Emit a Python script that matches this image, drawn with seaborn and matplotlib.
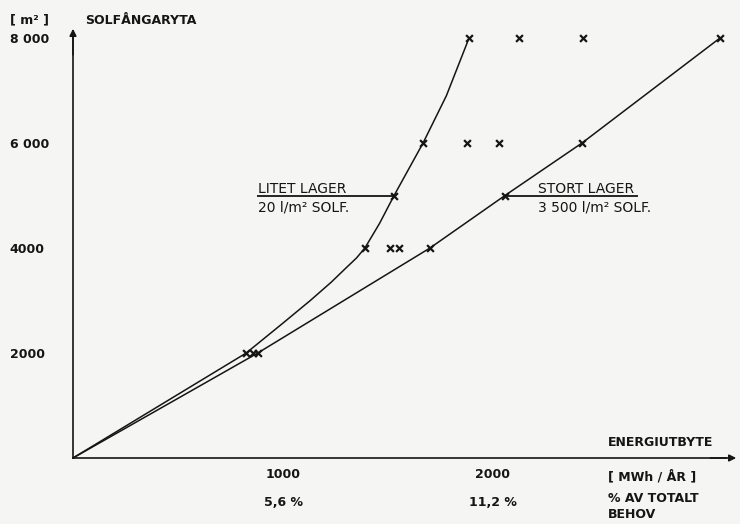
import numpy as np
import pandas as pd
import seaborn as sns
import matplotlib.pyplot as plt

# --- data -------------------------------------------------------------
# Energy yield [MWh/year] versus collector area [m2]
litet_mwh = [0, 825, 1000, 1130, 1230, 1300, 1350, 1390, 1460, 1529, 1667, 1778, 1886]
litet_m2 = [0, 2000, 2570, 3000, 3350, 3620, 3810, 4000, 4470, 5000, 6000, 6900, 8000]
litet_mark_mwh = [825, 1390, 1529, 1667, 1886]
litet_mark_m2 = [2000, 4000, 5000, 6000, 8000]

stort_mwh = [0, 880, 1700, 2057, 2424, 3081]
stort_m2 = [0, 2000, 4000, 5000, 6000, 8000]

extra_mwh = [855, 1510, 1552, 1876, 2029, 2124, 2429]
extra_m2 = [2000, 4000, 4000, 6000, 6000, 8000, 8000]

x_ticks = [500, 1000, 1500, 2000, 2500, 3000]
x_ticklabels = ["", "1000", "", "2000", "", ""]
x_pct = {1000: "5,6 %", 2000: "11,2 %"}
y_ticks = [2000, 4000, 6000, 8000]
y_ticklabels = ["2000", "4000", "6 000", "8 000"]

# --- style ------------------------------------------------------------
sns.set_theme(style="white")
plt.rcParams["font.family"] = ["DejaVu Sans"]
INK = "#151515"
PAPER = "#f5f5f3"
FS = 9

W, H = 740, 524
fig = plt.figure(figsize=(W / 100, H / 100), dpi=100, facecolor=PAPER)
ax = fig.add_axes([0, 0, 1, 1], facecolor=PAPER)

# origin sits at pixel (73, 458); 105 px per 500 MWh and per 2000 m2
X0, Y0 = 73, 458
sx, sy = 0.21, 0.0525
ax.set_xlim(-X0 / sx, (W - X0) / sx)
ax.set_ylim(-(H - Y0) / sy, Y0 / sy)

x_end = (W - 1 - X0) / sx
y_end = (Y0 - 26) / sy

for side in ("top", "right"):
    ax.spines[side].set_visible(False)
for side in ("left", "bottom"):
    ax.spines[side].set_position(("data", 0))
    ax.spines[side].set_color(INK)
    ax.spines[side].set_linewidth(1.2)
ax.spines["left"].set_bounds(0, y_end - 200)
ax.spines["bottom"].set_bounds(0, x_end - 60)

# arrow heads on both axes
ax.annotate("", xy=(x_end, 0), xytext=(x_end - 150, 0),
            arrowprops=dict(arrowstyle="-|>", color=INK, lw=1.2,
                            mutation_scale=10), annotation_clip=False)
ax.annotate("", xy=(0, y_end), xytext=(0, y_end - 600),
            arrowprops=dict(arrowstyle="-|>", color=INK, lw=1.2,
                            mutation_scale=10), annotation_clip=False)

ax.set_xticks(x_ticks)
ax.set_xticklabels(x_ticklabels)
ax.set_yticks(y_ticks)
ax.set_yticklabels(y_ticklabels)
ax.tick_params(axis="both", direction="inout", length=7, width=1.1,
               color=INK, labelcolor=INK, labelsize=FS)
ax.tick_params(axis="x", pad=4)
ax.tick_params(axis="y", pad=42)
for lab in ax.get_yticklabels():
    lab.set_horizontalalignment("left")
    lab.set_fontweight("bold")
for lab in ax.get_xticklabels():
    lab.set_fontweight("bold")
ax.grid(False)

# --- curves -----------------------------------------------------------
litet = pd.DataFrame({"mwh": litet_mwh, "m2": litet_m2})
stort = pd.DataFrame({"mwh": stort_mwh, "m2": stort_m2})
sns.lineplot(data=litet, x="mwh", y="m2", sort=False, estimator=None,
             color=INK, lw=1.1, ax=ax)
sns.lineplot(data=stort, x="mwh", y="m2", sort=False, estimator=None,
             color=INK, lw=1.1, ax=ax)

marks = pd.DataFrame({
    "mwh": litet_mark_mwh + stort_mwh[1:] + extra_mwh,
    "m2": litet_mark_m2 + stort_m2[1:] + extra_m2,
})
sns.scatterplot(data=marks, x="mwh", y="m2", marker="x", s=24,
                color=INK, linewidth=1.6, ax=ax, zorder=5)
ax.set_xlabel("")
ax.set_ylabel("")

# --- curve labels -------------------------------------------------------
ax.hlines(5000, 876, litet_mark_mwh[2], color=INK, lw=1.3)
ax.hlines(5000, stort_mwh[3], 2690, color=INK, lw=1.3)
ax.text(881, 5130, "LITET LAGER", color=INK, fontsize=10, va="center", ha="left")
ax.text(881, 4780, "20 l/m² SOLF.", color=INK, fontsize=10, va="center", ha="left")
ax.text(2214, 5130, "STORT LAGER", color=INK, fontsize=10, va="center", ha="left")
ax.text(2214, 4780, "3 500 l/m² SOLF.", color=INK, fontsize=10, va="center", ha="left")

# --- axis titles --------------------------------------------------------
def px(xp, yp):
    return (xp - X0) / sx, (Y0 - yp) / sy

bold = dict(color=INK, fontsize=FS, fontweight="bold", va="center", ha="left")
ax.text(*px(10, 20), "[ m² ]", **bold)
ax.text(*px(85, 20), "SOLFÅNGARYTA", **bold)
ax.text(*px(608, 442), "ENERGIUTBYTE", **bold)
ax.text(*px(608, 477), "[ MWh / ÅR ]", **bold)
ax.text(*px(608, 499), "% AV TOTALT", **bold)
ax.text(*px(608, 515), "BEHOV", **bold)
for xv, lab in x_pct.items():
    ax.text(xv, px(0, 502)[1], lab, color=INK, fontsize=FS,
            fontweight="bold", va="center", ha="center")

fig.savefig("out.png", dpi=100, facecolor=PAPER)
